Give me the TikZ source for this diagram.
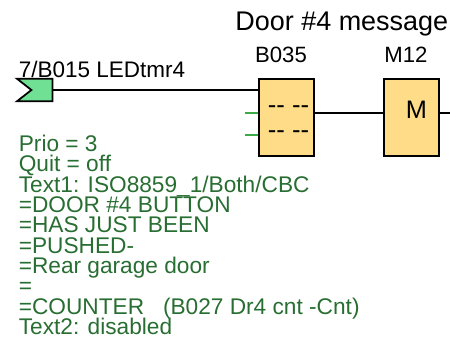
\documentclass[tikz,border=0pt]{standalone}
\usepackage{fontspec}
\setmainfont{Liberation Sans}
\usetikzlibrary{shapes.symbols}
\normallineskiplimit=-20pt
\lineskiplimit=-20pt
\definecolor{blockfill}{RGB}{255,220,135}
\definecolor{flagfill}{RGB}{112,224,148}
\definecolor{stubgreen}{RGB}{60,170,70}
\definecolor{notegreen}{RGB}{40,110,50}
\tikzset{
	blockbox/.style={shape=rectangle,draw=black,line width=1pt,fill=blockfill,minimum width=1.1cm,minimum height=1.534cm,inner sep=0pt},
	flagbox/.style={shape=signal,signal from=west,signal to=nowhere,signal pointer angle=76,draw=black,line width=1pt,fill=flagfill,minimum width=0.714cm,minimum height=0.454cm,inner sep=0pt},
	wire/.style={draw=black,line width=1pt},
	stub/.style={draw=stubgreen,line width=1pt},
	label/.style={anchor=base west,inner sep=0pt,font=\fontsize{12.8}{12.8}\selectfont},
	title/.style={anchor=base,inner sep=0pt,font=\fontsize{12.6}{12.6}\selectfont},
	dashes/.style={inner sep=0pt,font=\fontsize{14.6}{14.6}\selectfont}
}
\begin{document}
\begin{tikzpicture}
	\useasboundingbox (0,0) rectangle (9,6.78);

	\node[flagbox] (flag) at (0.84,4.98) {};
	\node[blockbox] (b035) at (5.736,4.433) {};
	\node[blockbox] (m12) at (8.227,4.433) {};

	\node[anchor=base west,inner sep=0pt,font=\fontsize{15.35}{15.35}\selectfont] (door) at (4.7,6.166) {Door \#4 message};
	\node[title] (b035t) at (5.62,5.526) {B035};
	\node[title] (m12t) at (8.12,5.526) {M12};
	\node[label] (flagt) at (0.37,5.234) {7/B015 LEDtmr4};

	\node[dashes] (d1) at (5.77,4.58) {-{}- -{}-};
	\node[dashes] (d2) at (5.77,4.08) {-{}- -{}-};
	\node[font=\fontsize{14.4}{14.4}\selectfont,inner sep=0pt] (mm) at (8.33,4.58) {M};

	\coordinate (in2) at (4.9,4.526);
	\coordinate (in3) at (4.9,4.08);
	\coordinate (out) at (9,4.526);

	\draw[wire] (flag.east) -- (flag.east -| b035.west);
	\draw[stub] (in2) -- (in2 -| b035.west);
	\draw[stub] (in3) -- (in3 -| b035.west);
	\draw[wire] (in2 -| b035.east) -- (in2 -| m12.west);
	\draw[wire] (in2 -| m12.east) -- (out);

	\node[anchor=north west,inner sep=0pt,align=left,text=notegreen,font=\fontsize{12.9}{11.6}\selectfont] (note) at (0.37,4.09) {Prio = 3\\
		Quit = off\\
		Text1: ISO8859\_1/Both/CBC\\
		=DOOR \#4 BUTTON\\
		=HAS JUST BEEN\\
		=PUSHED-\\
		=Rear garage door\\
		=\\
		=COUNTER\ \ \ (B027 Dr4 cnt -Cnt)\\
		Text2: disabled};
\end{tikzpicture}
\end{document}
